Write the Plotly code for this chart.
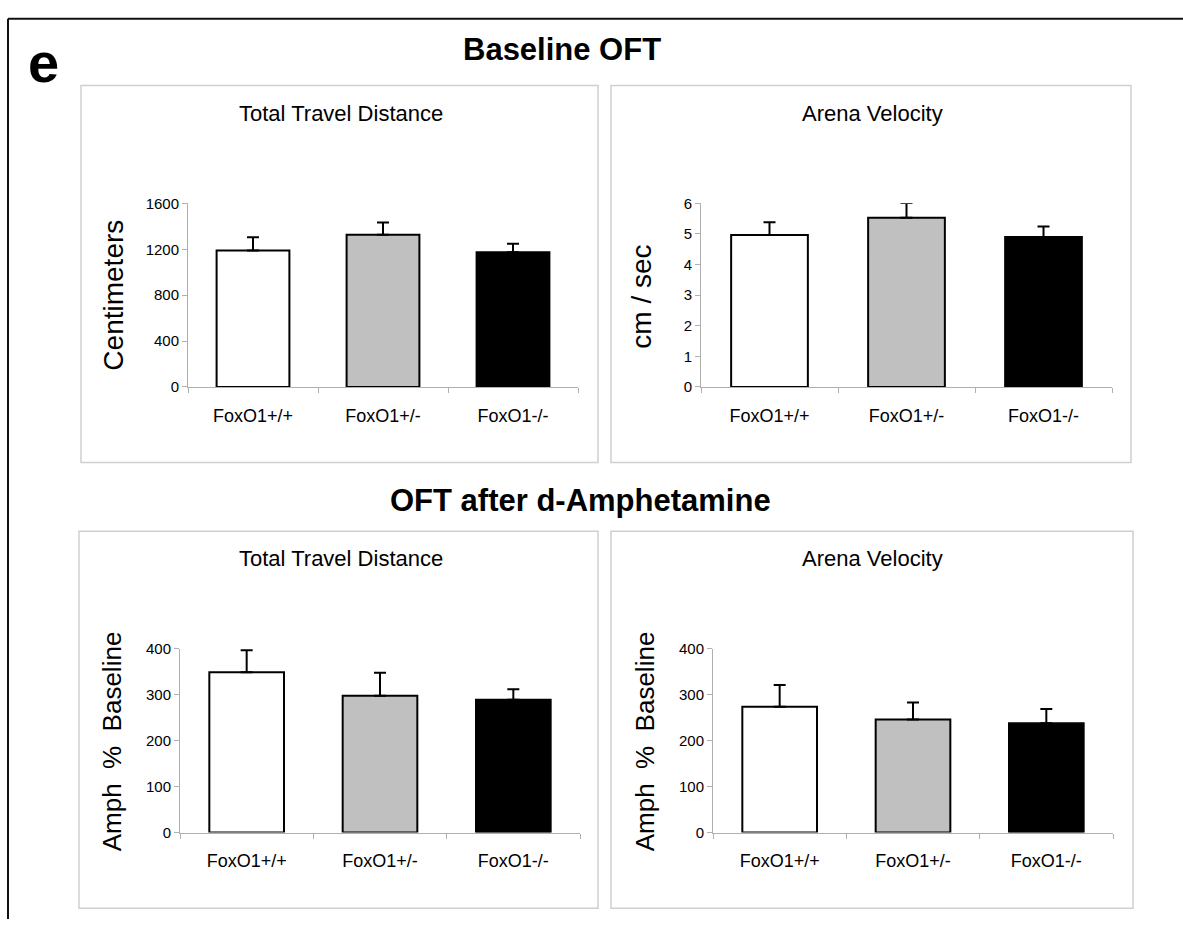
import plotly.graph_objects as go

W, H = 1183, 927

categories = ["FoxO1+/+", "FoxO1+/-", "FoxO1-/-"]
bar_colors = ["#ffffff", "#c0c0c0", "#000000"]

# Baseline OFT
tl_title = "Total Travel Distance"
tl_vals = [1190, 1326, 1174]
tl_err = [115, 108, 75]
tl_ticks = [0, 400, 800, 1200, 1600]

tr_title = "Arena Velocity"
tr_vals = [4.97, 5.53, 4.90]
tr_err = [0.41, 0.48, 0.34]
tr_ticks = [0, 1, 2, 3, 4, 5, 6]

# OFT after d-Amphetamine
bl_title = "Total Travel Distance"
bl_vals = [349, 298, 289]
bl_err = [48, 50, 23]
bl_ticks = [0, 100, 200, 300, 400]

br_title = "Arena Velocity"
br_vals = [274, 246, 238]
br_err = [47, 37, 31]
br_ticks = [0, 100, 200, 300, 400]

FONT = "Liberation Sans, Arial, sans-serif"


def px_x(p):
    return p / W


def px_y(p):
    return 1 - p / H


fig = go.Figure()

panels = [
    # (suffix, vals, err, ticks, x-domain px, y-domain px)
    ("", tl_vals, tl_err, tl_ticks, (188, 578), (198, 385)),
    ("2", tr_vals, tr_err, tr_ticks, (701, 1112), (198, 385)),
    ("3", bl_vals, bl_err, bl_ticks, (180, 580), (651.7, 839)),
    ("4", br_vals, br_err, br_ticks, (713, 1113), (651.7, 839)),
]

layout_axes = {}
for suf, vals, err, ticks, xd, yd in panels:
    fig.add_trace(go.Bar(
        x=categories, y=vals,
        xaxis="x" + suf, yaxis="y" + suf,
        width=0.56,
        marker=dict(color=bar_colors, line=dict(color="#000000", width=2)),
        error_y=dict(type="data", symmetric=False, array=err,
                     arrayminus=[0] * len(err), color="#000000",
                     thickness=2, width=6),
        showlegend=False, hoverinfo="skip",
        cliponaxis=False,
    ))
    layout_axes["xaxis" + suf] = dict(
        domain=[px_x(xd[0]), px_x(xd[1])],
        anchor="y" + suf,
        type="category",
        range=[-0.5, 2.5],
        showline=True, linecolor="#b0b0b0", linewidth=1,
        ticks="outside", tickson="boundaries", ticklen=5, tickcolor="#b0b0b0",
        tickfont=dict(family=FONT, size=18, color="#000000"),
        ticklabelstandoff=12,
        showgrid=False, zeroline=False, fixedrange=True,
        layer="below traces",
    )
    layout_axes["yaxis" + suf] = dict(
        domain=[px_y(yd[1]), px_y(yd[0])],
        anchor="x" + suf,
        range=[0, ticks[-1]],
        tickvals=ticks,
        showline=True, linecolor="#b0b0b0", linewidth=1,
        ticks="outside", ticklen=5, tickcolor="#b0b0b0",
        tickfont=dict(family=FONT, size=15, color="#000000"),
        showgrid=False, zeroline=False, fixedrange=True,
        layer="below traces",
    )

shapes = []
# panel boxes
for x0, y0, x1, y1 in [(81, 78, 598, 462), (611, 78, 1131, 462),
                       (79, 532, 598, 916), (611, 532, 1133, 916)]:
    shapes.append(dict(type="rect", xref="paper", yref="paper",
                       x0=px_x(x0), x1=px_x(x1), y0=px_y(y1), y1=px_y(y0),
                       line=dict(color="#cfcfcf", width=1.5), fillcolor="rgba(0,0,0,0)"))
# outer frame (top and left)
shapes.append(dict(type="line", xref="paper", yref="paper",
                   x0=px_x(8), x1=1, y0=px_y(10), y1=px_y(10),
                   line=dict(color="#111111", width=2)))
shapes.append(dict(type="line", xref="paper", yref="paper",
                   x0=px_x(8), x1=px_x(8), y0=px_y(10), y1=0,
                   line=dict(color="#111111", width=2)))

annotations = []


def ann(text, x, y, size, angle=0, bold=False):
    annotations.append(dict(
        text=("<b>%s</b>" % text) if bold else text,
        x=px_x(x), y=px_y(y), xref="paper", yref="paper",
        xanchor="center", yanchor="middle", showarrow=False,
        textangle=angle,
        font=dict(family=FONT, size=size, color="#000000"),
    ))


ann("e", 43, 54, 56, bold=True)
ann("Baseline OFT", 562, 41, 31, bold=True)
ann("OFT after d-Amphetamine", 580, 501, 31, bold=True)

ann(tl_title, 341, 106, 22)
ann(tr_title, 872, 106, 22)
ann(bl_title, 341, 560, 22)
ann(br_title, 872, 560, 22)

ann("Centimeters", 114, 292, 28, angle=-90)
ann("cm / sec", 642, 293, 28, angle=-90)
ann("Amph  %  Baseline", 112, 746, 26, angle=-90)
ann("Amph  %  Baseline", 645, 746, 26, angle=-90)

fig.update_layout(
    width=W, height=H,
    margin=dict(l=0, r=0, t=0, b=0),
    paper_bgcolor="#ffffff", plot_bgcolor="#ffffff",
    shapes=shapes, annotations=annotations,
    bargap=0.44,
    **layout_axes,
)

fig.write_html("out.html", config={"displayModeBar": False})
